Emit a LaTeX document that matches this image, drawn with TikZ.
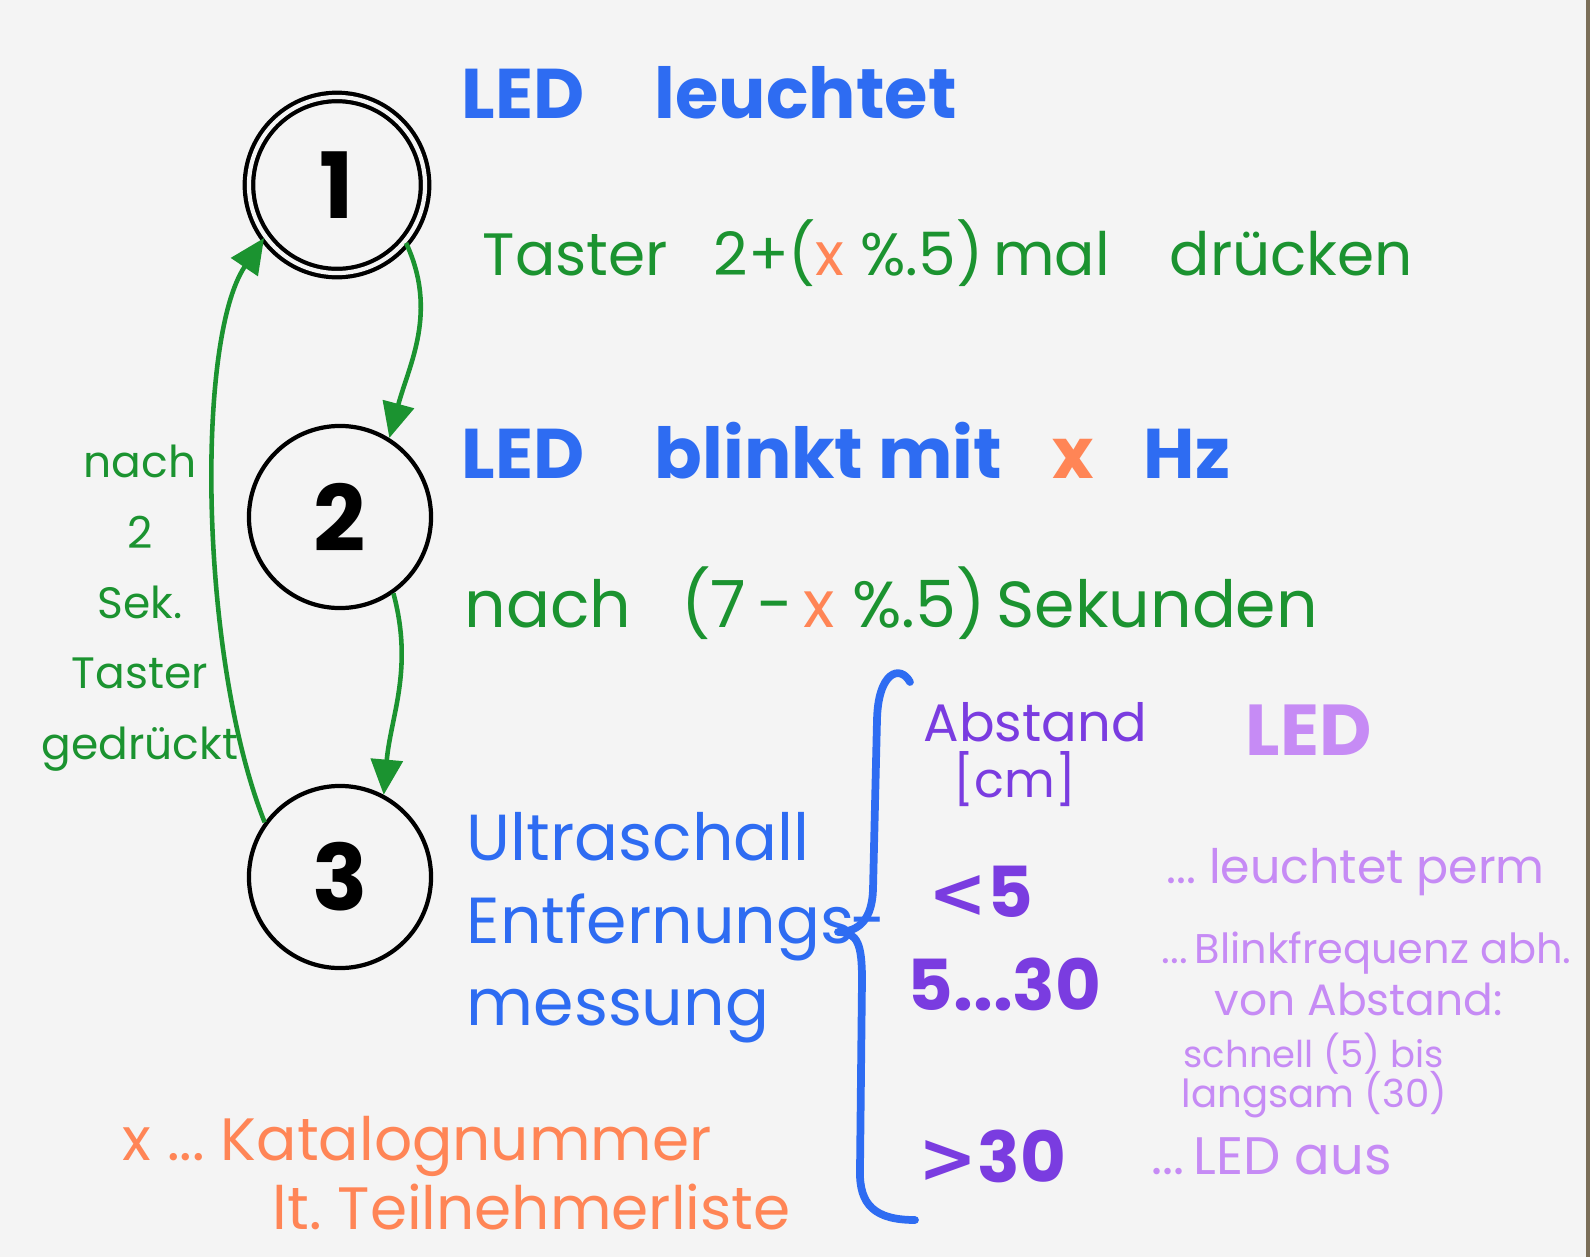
\documentclass[tikz,border=0pt]{standalone}
\usepackage{fontspec}
\setmainfont{Poppins}
\newfontfamily\symfont{DejaVu Sans}
\usetikzlibrary{arrows.meta,positioning}
\definecolor{SketchBg}{HTML}{F4F4F4}
\definecolor{SketchEdge}{HTML}{7A6E58}
\definecolor{SketchGreen}{HTML}{1B9330}
\definecolor{SketchBlue}{HTML}{2E6CF2}
\definecolor{SketchOrange}{HTML}{FF8556}
\definecolor{SketchPurple}{HTML}{7A3CE0}
\definecolor{SketchLilac}{HTML}{C68BF5}
\tikzset{
  state/.style={circle,draw=black,line width=1.2pt,minimum size=1.82cm,inner sep=0pt,font=\fontsize{26}{30}\selectfont\bfseries},
  startstate/.style={state,double=SketchBg,double distance=1.2pt,minimum size=1.76cm},
  trans/.style={-{Triangle[length=10pt,width=9pt]},line width=1.3pt,color=SketchGreen},
  note/.style={anchor=west,inner sep=0pt,align=left},
  bluenote/.style={note,text=SketchBlue,font=\fontsize{20}{24}\selectfont\bfseries},
  greennote/.style={note,text=SketchGreen,font=\fontsize{17}{22}\selectfont},
  purplenote/.style={note,text=SketchPurple,font=\fontsize{20}{24}\selectfont\bfseries},
  lilacnote/.style={note,text=SketchLilac,font=\fontsize{13}{16}\selectfont},
  orangenote/.style={note,text=SketchOrange,font=\fontsize{17}{21}\selectfont},
  brace/.style={line width=2.2pt,color=SketchBlue,line cap=round,line join=round},
}
\newcommand{\xvar}{\textcolor{SketchOrange}{x}}

\begin{document}
\begin{tikzpicture}[x=0.01cm,y=-0.01cm]
  % paper
  \useasboundingbox (0,0) rectangle (1590,1257);
  \fill[SketchBg] (0,0) rectangle (1590,1257);
  \fill[SketchEdge] (1586,0) rectangle (1590,1257);

  % states
  \node[startstate] (s1) at (337,185) {1};
  \node[state] (s2) at (340,517) {2};
  \node[state] (s3) at (340,877) {3};

  % transitions
  \draw[trans] (s1.-40) to[out=-65,in=75] (s2.58);
  \draw[trans] (s2.-55) to[out=-75,in=85] (s3.62);
  \draw[trans] (s3.144) .. controls (200,660) and (195,340) .. (s1.216);

  \node[note,anchor=center,align=center,text=SketchGreen,font=\fontsize{12.5}{20}\selectfont] (back) at (140,608)
    {nach\\2\\Sek.\\Taster\\gedrückt};

  % what happens in each state
  \node[bluenote] (t1) at (461,93) {LED\quad leuchtet};
  \node[greennote] (e12) at (482,253) {Taster\enspace\ 2+(\xvar\ \%.5)\,mal\quad drücken};
  \node[bluenote] (t2) at (461,451) {LED\quad blinkt\ mit\enspace\ \xvar\enspace\ Hz};
  \node[greennote,font=\fontsize{18.5}{22}\selectfont] (e23) at (464,603) {nach\enspace\ (7\,-\,\xvar\ \%.5)\,Sekunden};
  \node[bluenote,font=\fontsize{18.5}{23.5}\selectfont] (t3) at (466,928) {Ultraschall\\Entfernungs\kern-1pt-\\messung};

  % brace
  \draw[brace] (910,682) .. controls (900,664) and (878,672) .. (877,720)
    -- (873,890) .. controls (872,918) and (860,932) .. (838,932)
    .. controls (858,932) and (862,945) .. (862,980)
    -- (860,1170) .. controls (859,1205) and (875,1220) .. (915,1220);

  % distance table
  \node[purplenote,font=\fontsize{15}{19}\selectfont] (dist) at (923,722) {Abstand};
  \node[purplenote,font=\fontsize{14}{17}\selectfont] (unit) at (953,779) {[cm]};
  \node[note,text=SketchLilac,font=\fontsize{20.5}{24}\selectfont\bfseries] (led) at (1245,730) {LED};
  \node[purplenote] (d1) at (928,892) {{\symfont\bfseries <}5};
  \node[purplenote] (d2) at (907,984) {5...30};
  \node[purplenote] (d3) at (918,1156) {{\symfont\bfseries >}30};
  \node[lilacnote,font=\fontsize{13.5}{16}\selectfont] (r1) at (1166,872) {...\ leuchtet\ perm};
  \node[lilacnote,font=\fontsize{11.8}{16}\selectfont] (r2) at (1161,953) {...\,Blinkfrequenz abh.};
  \node[lilacnote,font=\fontsize{12.5}{16}\selectfont] (r2b) at (1214,999) {von Abstand:};
  \node[lilacnote,font=\fontsize{10.5}{14}\selectfont] (r2c) at (1183,1054) {schnell (5) bis};
  \node[lilacnote,font=\fontsize{11}{14}\selectfont] (r2d) at (1181,1095) {langsam (30)};
  \node[lilacnote,font=\fontsize{15}{18}\selectfont] (r3) at (1151,1156) {...\,LED aus};

  % legend
  \node[orangenote] (key1) at (122,1146) {x ...\ Katalognummer};
  \node[orangenote] (key2) at (272,1207) {lt.\ Teilnehmerliste};
\end{tikzpicture}
\end{document}
